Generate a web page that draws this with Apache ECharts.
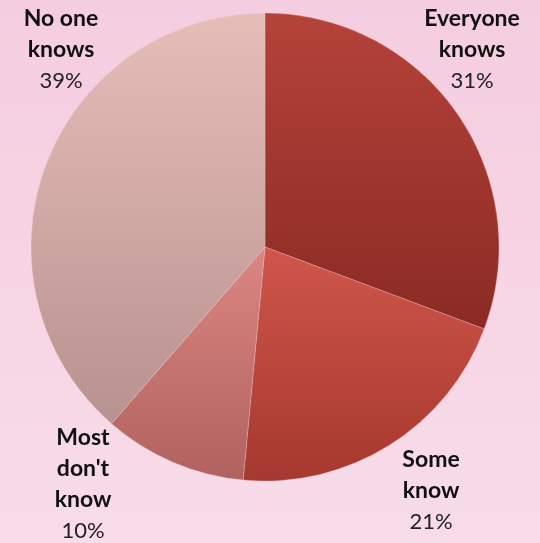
<!DOCTYPE html>
<html><head><meta charset="utf-8">
<script src="https://cdn.jsdelivr.net/npm/echarts@6/dist/echarts.min.js"></script>
<style>html,body{margin:0;padding:0;}#c{width:540px;height:543px;background:linear-gradient(180deg,#f5cde0 0%,#f7d6e5 60%,#f8dce9 100%);}</style>
</head><body><div id="c"></div>
<script>
const categories = ["Everyone\nknows", "Some\nknow", "Most\ndon't\nknow", "No one\nknows"];
const values = [31, 21, 10, 39];
const percentLabels = ["31%", "21%", "10%", "39%"];
const topColors = ["#b5433a", "#d0564a", "#dc8682", "#e7bdb8"];
const bottomColors = ["#8a2a24", "#a5382f", "#b0625f", "#b89290"];
const labelPos = [[472, 50], [431, 491], [83, 484], [61, 50]];

const chart = echarts.init(document.getElementById('c'), null, {renderer: 'canvas'});
chart.setOption({
  backgroundColor: 'transparent',
  animation: false,
  series: [{
    type: 'pie',
    center: [265, 247],
    radius: [0, 234],
    startAngle: 90,
    clockwise: true,
    avoidLabelOverlap: false,
    data: categories.map((n, i) => ({
      name: n, value: values[i],
      itemStyle: {
        color: new echarts.graphic.LinearGradient(0, 0, 0, 1, [
          {offset: 0, color: topColors[i]}, {offset: 1, color: bottomColors[i]}
        ])
      }
    })),
    itemStyle: {borderColor: 'rgba(255,220,220,0.25)', borderWidth: 1},
    label: {
      show: true,
      position: 'outside',
      overflow: 'none',
      edgeDistance: 0,
      formatter: p => '{b|' + p.name + '}\n{p|' + percentLabels[p.dataIndex] + '}',
      rich: {
        b: {fontFamily: 'Lato', fontWeight: 'bold', fontSize: 23, lineHeight: 31, color: '#111', align: 'center'},
        p: {fontFamily: 'Lato', fontSize: 22, lineHeight: 31, color: '#222', align: 'center'}
      },
      align: 'center'
    },
    labelLine: {show: false},
    labelLayout: p => ({x: labelPos[p.dataIndex][0], y: labelPos[p.dataIndex][1], align: 'center', verticalAlign: 'middle', hideOverlap: false}),
    emphasis: {disabled: true}
  }]
});
</script></body></html>
